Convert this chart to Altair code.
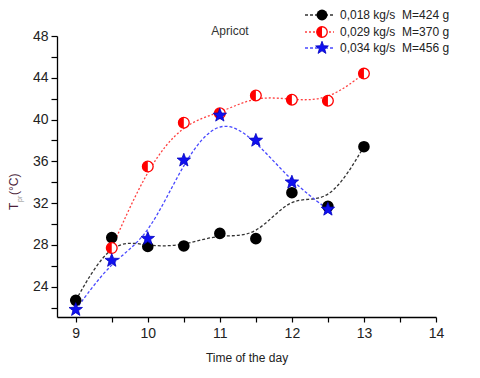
import math
import altair as alt
import pandas as pd

# ---- data ----
times = [9, 9.5, 10, 10.5, 11, 11.5, 12, 12.5, 13]
black_vals = [22.7, 28.7, 27.85, 27.9, 29.1, 28.6, 33.0, 31.7, 37.4]
red_times = [9.5, 10, 10.5, 11, 11.5, 12, 12.5, 13]
red_vals = [27.7, 35.5, 39.7, 40.6, 42.3, 41.9, 41.8, 44.4]
blue_times = [9, 9.5, 10, 10.5, 11, 11.5, 12, 12.5]
blue_vals = [21.8, 26.5, 28.6, 36.1, 40.4, 38.0, 34.0, 31.4]
labels = ["0,018 kg/s\u00a0\u00a0M=424 g", "0,029 kg/s\u00a0\u00a0M=370 g", "0,034 kg/s\u00a0\u00a0M=456 g"]
x_ticks = [9, 9.5, 10, 10.5, 11, 11.5, 12, 12.5, 13, 13.5, 14]
y_ticks = [22, 24, 26, 28, 30, 32, 34, 36, 38, 40, 42, 44, 46, 48]
title_text = "Apricot"
x_title = "Time of the day"

FONT = "Liberation Sans"

# ---- marker shapes (unit box paths) ----
CIRCLE = "M0,-1 A1,1 0 1 1 0,1 A1,1 0 1 1 0,-1 Z"
HALF_LEFT = "M0,-1 A1,1 0 0 0 0,1 Z"
pts = []
for i in range(10):
    r = 1.0 if i % 2 == 0 else 0.42
    a = math.radians(-90 + 36 * i)
    pts.append(f"{r*math.cos(a):.3f},{r*math.sin(a):.3f}")
STAR = "M" + " L".join(pts) + " Z"

black_df = pd.DataFrame({"t": times, "v": black_vals})
red_df = pd.DataFrame({"t": red_times, "v": red_vals})
blue_df = pd.DataFrame({"t": blue_times, "v": blue_vals})

xs = alt.Scale(domain=[8.74, 14], nice=False, zero=False)
ys = alt.Scale(domain=[21.1, 48], nice=False, zero=False)

X = alt.X("t:Q", scale=xs, axis=alt.Axis(
    values=x_ticks, tickCount=40,
    labelExpr="datum.value % 1 == 0 ? format(datum.value, 'd') : ''",
    title=x_title, titleFontSize=12, titleFontWeight="normal", titleColor="#222",
    titlePadding=12, tickSize=5, labelPadding=4, labelFontSize=14,
    grid=False, labelFlush=False, labelOverlap=False))
Y = alt.Y("v:Q", scale=ys, axis=alt.Axis(
    values=y_ticks, tickCount=40,
    labelExpr="datum.value % 4 == 0 ? format(datum.value, 'd') : ''",
    title=None, tickSize=6, labelPadding=3, labelFontSize=14, grid=False,
    labelOverlap=False))

def line(df, color, dash):
    return alt.Chart(df).mark_line(interpolate="basis", color=color,
                                   strokeDash=dash, strokeWidth=1.3).encode(x=X, y=Y)

black_line = line(black_df, "#333333", [3, 2])
red_line = line(red_df, "#ff4040", [2, 2])
blue_line = line(blue_df, "#4848ff", [3, 2])

black_pts = alt.Chart(black_df).mark_point(shape="circle", filled=True, color="black",
                                           size=135, opacity=1).encode(x="t:Q", y="v:Q")
red_bg = alt.Chart(red_df).mark_point(shape=CIRCLE, filled=True, fill="white", stroke="#ff0000",
                                      strokeWidth=1.3, size=115, opacity=1).encode(x="t:Q", y="v:Q")
red_half = alt.Chart(red_df).mark_point(shape=HALF_LEFT, filled=True, color="#ff0000",
                                        size=115, opacity=1).encode(x="t:Q", y="v:Q")
blue_pts = alt.Chart(blue_df).mark_point(shape=STAR, filled=True, fill="#1010f0", stroke="#0000c0",
                                         strokeWidth=0.8, size=200, opacity=1).encode(x="t:Q", y="v:Q")

# ---- title inside ----
one = pd.DataFrame({"label": [title_text]})
title = alt.Chart(one).mark_text(font=FONT, fontSize=12, color="#333", align="center",
                                 baseline="middle").encode(
    x=alt.value(173), y=alt.value(-5), text="label:N")

# ---- y title with subscript ----
yt = pd.DataFrame({"a": ["T"], "b": ["pr"], "c": ["(°C)"]})
yT = alt.Chart(yt).mark_text(font=FONT, fontSize=12, color="#4b1f3a", angle=270, align="left",
                             baseline="alphabetic").encode(x=alt.value(-39), y=alt.value(174), text="a:N")
ySub = alt.Chart(yt).mark_text(font=FONT, fontSize=7, color="#888", angle=270, align="left",
                               baseline="alphabetic").encode(x=alt.value(-35), y=alt.value(166), text="b:N")
yC = alt.Chart(yt).mark_text(font=FONT, fontSize=12, color="#4b1f3a", angle=270, align="left",
                             baseline="alphabetic").encode(x=alt.value(-39), y=alt.value(159), text="c:N")

# ---- manual legend ----
leg_rows = [-21, -4, 12]
leg_colors = ["#333333", "#ff4040", "#4848ff"]
leg_dash = [[3, 2], [2, 2], [3, 2]]
legend_layers = []
for i in range(3):
    d = pd.DataFrame({"label": [labels[i]]})
    yv = leg_rows[i]
    legend_layers.append(alt.Chart(d).mark_rule(color=leg_colors[i], strokeDash=leg_dash[i],
                                                strokeWidth=1.3).encode(
        x=alt.value(248), x2=alt.value(277), y=alt.value(yv)))
    legend_layers.append(alt.Chart(d).mark_text(font=FONT, fontSize=12, color="#222", align="left",
                                                baseline="middle").encode(
        x=alt.value(283), y=alt.value(yv), text="label:N"))
d0 = pd.DataFrame({"label": [labels[0]]})
legend_layers.append(alt.Chart(d0).mark_point(shape="circle", filled=True, color="black", size=120,
                                              opacity=1).encode(x=alt.value(265), y=alt.value(leg_rows[0])))
legend_layers.append(alt.Chart(d0).mark_point(shape=CIRCLE, filled=True, fill="white", stroke="#ff0000",
                                              strokeWidth=1.3, size=110, opacity=1).encode(
    x=alt.value(265), y=alt.value(leg_rows[1])))
legend_layers.append(alt.Chart(d0).mark_point(shape=HALF_LEFT, filled=True, color="#ff0000", size=110,
                                              opacity=1).encode(x=alt.value(265), y=alt.value(leg_rows[1])))
legend_layers.append(alt.Chart(d0).mark_point(shape=STAR, filled=True, fill="#1010f0", stroke="#0000c0",
                                              strokeWidth=0.8, size=180, opacity=1).encode(
    x=alt.value(265), y=alt.value(leg_rows[2])))

chart = alt.layer(
    black_line, red_line, blue_line, black_pts, red_bg, red_half, blue_pts,
    title, yT, ySub, yC, *legend_layers
).properties(
    width=379, height=281,
    padding={"left": 49, "top": 28, "right": 36, "bottom": 53},
    autosize=alt.AutoSizeParams(type="none"),
    background="white",
).configure_view(stroke=None).configure_axis(
    labelFont=FONT, titleFont=FONT, labelColor="#222", domainColor="black", tickColor="black",
    domainWidth=1.3, tickWidth=1.2,
)

chart.save("out.html", embed_options={"renderer": "svg", "actions": False})
